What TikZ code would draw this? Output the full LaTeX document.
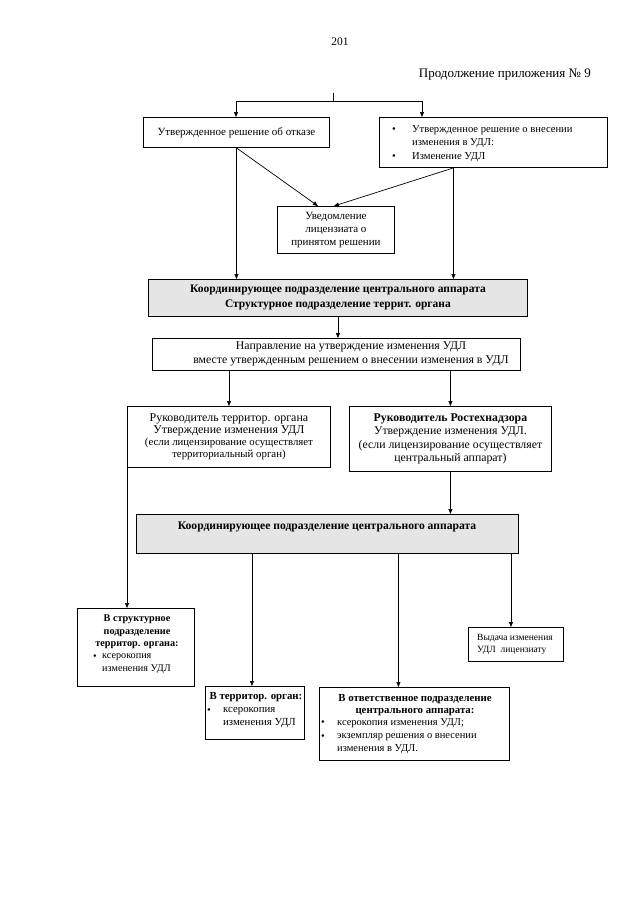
\documentclass[tikz,border=0pt]{standalone}
\usepackage{fontspec}
\setmainfont{Liberation Serif}
\usetikzlibrary{arrows.meta,calc}
\newcommand{\fs}[1]{\fontsize{#1}{#1}\selectfont}
\begin{document}
\begin{tikzpicture}[x=1pt,y=-1pt,
  box/.style={draw, line width=0.9pt, inner sep=0pt, anchor=north west, align=center},
  coordbox/.style={box, fill=black!10},
  arr/.style={line width=0.7pt, -{Triangle[length=5pt,width=4pt]}},
  ln/.style={line width=0.7pt},
  txt/.style={inner sep=0pt, align=center},
  ltxt/.style={inner sep=0pt, anchor=west, align=left}]
\useasboundingbox[fill=white] (0,0) rectangle (640,905);

\node[txt,font=\fs{11.5}] (pg) at (340,42) {201};
\node[txt,font=\fs{13},anchor=east] (app) at (591,75) {Продолжение приложения №~9};

% top boxes
\node[box,minimum width=186pt,minimum height=30pt,font=\fs{11}] (refuse) at (143,117) {Утвержденное решение об отказе};
\node[box,minimum width=228pt,minimum height=50pt] (approve) at (379,117) {};
\node[txt,font=\fs{10.6}] (b1) at (394,130) {•};
\node[ltxt,font=\fs{10.6}] (a1) at (412,130) {Утвержденное решение о внесении};
\node[ltxt,font=\fs{10.6}] (a2) at (412,143) {изменения в УДЛ:};
\node[txt,font=\fs{10.6}] (b2) at (394,157) {•};
\node[ltxt,font=\fs{10.6}] (a3) at (412,157) {Изменение УДЛ};

\node[box,minimum width=117pt,minimum height=47pt,font=\fontsize{11}{13}\selectfont] (notice) at (277,206) {Уведомление\\лицензиата о\\принятом решении};

\node[coordbox,minimum width=379pt,minimum height=37pt,font=\fontsize{11.5}{15}\selectfont\bfseries] (coord1) at (148,279) {Координирующее подразделение центрального аппарата\\Структурное подразделение террит. органа};

\node[box,minimum width=368pt,minimum height=32pt] (dir) at (152,338) {};
\node[txt,font=\fontsize{11.8}{13.5}\selectfont] (dirt) at (351,354) {Направление на утверждение изменения УДЛ\\вместе утвержденным решением о внесении изменения в УДЛ};

\node[box,minimum width=203pt,minimum height=61pt,font=\fontsize{11.9}{12}\selectfont] (leadL) at (127,406) {Руководитель территор. органа\\Утверждение изменения УДЛ\\{\fontsize{10.8}{12}\selectfont(если лицензирование осуществляет}\\{\fontsize{10.8}{12.5}\selectfont территориальный орган)}};

\node[box,minimum width=202pt,minimum height=65pt,font=\fontsize{11.8}{13.5}\selectfont] (leadR) at (349,406) {\textbf{Руководитель Ростехнадзора}\\Утверждение изменения УДЛ.\\(если лицензирование осуществляет\\центральный аппарат)};

\node[coordbox,minimum width=382pt,minimum height=39pt] (coord2) at (136,514) {};
\node[txt,font=\fs{11.6}\bfseries] (c2t) at (327,527) {Координирующее подразделение центрального аппарата};

% bottom boxes
\node[box,minimum width=117pt,minimum height=78pt] (bStruct) at (77,608) {};
\node[txt,font=\fontsize{10.2}{12.4}\selectfont\bfseries] (s1) at (137,632) {В структурное\\подразделение\\территор. органа:};
\node[txt,font=\fs{10.2}] (sb) at (95,657) {•};
\node[ltxt,font=\fs{10.2}] (s2) at (102,657) {ксерокопия};
\node[ltxt,font=\fs{10.2}] (s3) at (102,669) {изменения УДЛ};

\node[box,minimum width=99pt,minimum height=53pt] (bTerr) at (205,686) {};
\node[txt,font=\fs{10.8}\bfseries] (t1) at (256,697) {В территор. орган:};
\node[txt,font=\fs{10.8}] (tb) at (209,711) {•};
\node[ltxt,font=\fs{10.8}] (t2) at (223,711) {ксерокопия};
\node[ltxt,font=\fs{10.8}] (t3) at (223,723) {изменения УДЛ};

\node[box,minimum width=190pt,minimum height=73pt] (bResp) at (319,687) {};
\node[txt,font=\fontsize{10.8}{12}\selectfont\bfseries] (r1) at (415,705) {В ответственное подразделение\\центрального аппарата:};
\node[txt,font=\fs{10.5}] (rb1) at (323,723) {•};
\node[ltxt,font=\fs{10.5}] (r2) at (337,723) {ксерокопия изменения УДЛ;};
\node[txt,font=\fs{10.5}] (rb2) at (323,737) {•};
\node[ltxt,font=\fs{10.5}] (r3) at (337,737) {экземпляр решения о внесении};
\node[ltxt,font=\fs{10.5}] (r4) at (337,749) {изменения в УДЛ.};

\node[box,minimum width=95pt,minimum height=34pt] (issue) at (468,627) {};
\node[ltxt,font=\fontsize{9.5}{12}\selectfont] (i1) at (477,644) {Выдача изменения\\УДЛ\ \ лицензиату};

% connectors
\coordinate (t0) at (333,93);
\coordinate (t1c) at (333,101);
\coordinate (tL) at (236,101);
\coordinate (tR) at (422,101);
\draw[ln] (t0) -- (t1c);
\draw[ln] (tL) -- (tR);
\draw[arr] (tL) -- (tL |- refuse.north);
\draw[arr] (tR) -- (tR |- approve.north);

\coordinate (apOut) at ([xshift=-40pt]approve.south);
\draw[arr] (refuse.south) -- ([xshift=-18pt]notice.north);
\draw[arr] (apOut) -- ([xshift=-2pt]notice.north);
\draw[arr] (refuse.south) -- (refuse.south |- coord1.north);
\draw[arr] (apOut) -- (apOut |- coord1.north);

\draw[arr] (coord1.south) -- (coord1.south |- dir.north);
\draw[arr] (dir.south -| leadL.north) -- (leadL.north);
\draw[arr] (dir.south -| leadR.north) -- (leadR.north);
\draw[arr] (leadR.south) -- (leadR.south |- coord2.north);
\draw[arr] (leadL.south west) -- (leadL.south west |- bStruct.north);

\coordinate (tIn) at ([xshift=-3pt]bTerr.north);
\coordinate (rIn) at ([xshift=-16pt]bResp.north);
\coordinate (iIn) at ([xshift=-5pt]issue.north);
\draw[arr] (coord2.south -| tIn) -- (tIn);
\draw[arr] (coord2.south -| rIn) -- (rIn);
\draw[arr] (coord2.south -| iIn) -- (iIn);
\end{tikzpicture}
\end{document}
